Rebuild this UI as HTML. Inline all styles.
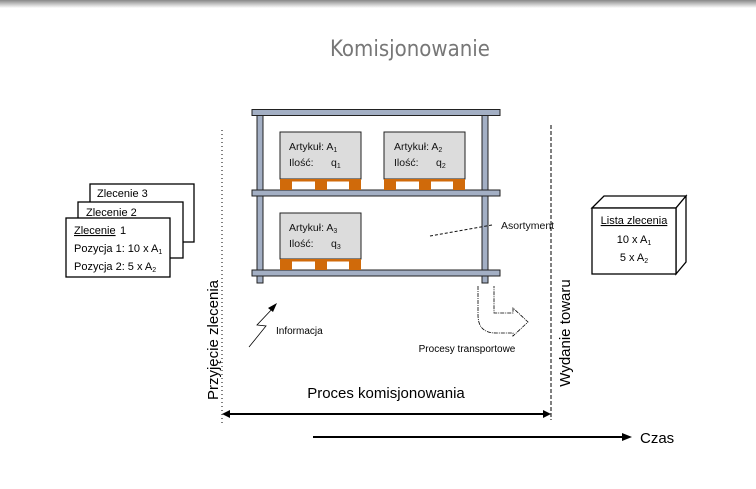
<!DOCTYPE html>
<html><head><meta charset="utf-8"><style>
html,body{margin:0;padding:0;background:#fff;}
svg{display:block;font-family:"Liberation Sans",sans-serif;}
</style></head><body>
<svg width="756" height="489" viewBox="0 0 756 489" xmlns="http://www.w3.org/2000/svg">
<defs><linearGradient id="g" x1="0" y1="0" x2="0" y2="1"><stop offset="0" stop-color="#888"/><stop offset="1" stop-color="#fff"/></linearGradient></defs>
<rect x="0" y="0" width="756" height="8" fill="url(#g)"/>
<text x="410" y="56" font-size="22" fill="#777" text-anchor="middle" font-family="DejaVu Sans Condensed, DejaVu Sans, sans-serif">Komisjonowanie</text>

<g fill="#a3afc4" stroke="#222" stroke-width="1">
<rect x="257" y="112" width="6" height="171"/>
<rect x="482" y="112" width="6" height="171"/>
<rect x="252" y="109.5" width="248" height="6"/>
<rect x="252" y="190" width="248" height="6"/>
<rect x="252" y="270" width="248" height="6"/>
</g>
<g stroke="#222" stroke-width="1">
<rect x="280" y="132" width="81" height="47" fill="#dcdcdc"/>
<rect x="384" y="132" width="81" height="47" fill="#dcdcdc"/>
<rect x="280" y="213" width="81" height="46" fill="#dcdcdc"/>
</g>
<g fill="#d06a0a">
<rect x="280" y="179" width="81" height="2.5"/><rect x="280" y="179" width="12" height="11"/><rect x="315" y="179" width="12" height="11"/><rect x="349" y="179" width="12" height="11"/>
<rect x="384" y="179" width="81" height="2.5"/><rect x="384" y="179" width="12" height="11"/><rect x="419" y="179" width="12" height="11"/><rect x="453" y="179" width="12" height="11"/>
<rect x="280" y="259" width="81" height="2.5"/><rect x="280" y="259" width="12" height="11"/><rect x="315" y="259" width="12" height="11"/><rect x="349" y="259" width="12" height="11"/>
</g>
<g font-size="10.5" fill="#111">
<text x="289" y="150">Artykuł: A<tspan font-size="7" dy="2">1</tspan></text>
<text x="289" y="166">Ilość:</text><text x="331" y="166">q<tspan font-size="7" dy="2">1</tspan></text>
<text x="394" y="150">Artykuł: A<tspan font-size="7" dy="2">2</tspan></text>
<text x="394" y="166">Ilość:</text><text x="436" y="166">q<tspan font-size="7" dy="2">2</tspan></text>
<text x="289" y="231">Artykuł: A<tspan font-size="7" dy="2">3</tspan></text>
<text x="289" y="247">Ilość:</text><text x="331" y="247">q<tspan font-size="7" dy="2">3</tspan></text>
<text x="501" y="229">Asortyment</text>
</g>
<line x1="430" y1="236" x2="492" y2="225" stroke="#111" stroke-dasharray="3,2"/>

<g stroke="#000" stroke-width="1.3" fill="#fff">
<rect x="90" y="184" width="104" height="58"/>
<rect x="78" y="202" width="105" height="56"/>
<rect x="66" y="218" width="104" height="59"/>
</g>
<g font-size="11" fill="#000">
<text x="97" y="197">Zlecenie 3</text>
<text x="86" y="216">Zlecenie 2</text>
<text x="74" y="234" text-decoration="underline">Zlecenie </text><text x="120" y="234">1</text>
<text x="74" y="252">Pozycja 1: 10 x A<tspan font-size="7" dy="2">1</tspan></text>
<text x="74" y="270">Pozycja 2: 5 x A<tspan font-size="7" dy="2">2</tspan></text>
</g>

<g stroke="#000" stroke-width="1.3" fill="#fff">
<polygon points="592,208 604,196 686,196 676,208"/>
<polygon points="676,208 686,196 686,262 676,274"/>
<rect x="592" y="208" width="84" height="66"/>
</g>
<g font-size="11" fill="#000" text-anchor="middle">
<text x="634" y="224" text-decoration="underline">Lista zlecenia</text>
<text x="634" y="243">10 x A<tspan font-size="7" dy="2">1</tspan></text>
<text x="634" y="261">5 x A<tspan font-size="7" dy="2">2</tspan></text>
</g>

<line x1="222" y1="130" x2="222" y2="425" stroke="#000" stroke-dasharray="1,3"/>
<line x1="551" y1="125" x2="551" y2="420" stroke="#000" stroke-dasharray="4,2"/>
<text transform="translate(218,340) rotate(-90)" font-size="15" text-anchor="middle">Przyjęcie zlecenia</text>
<text transform="translate(570,333) rotate(-90)" font-size="15" text-anchor="middle">Wydanie towaru</text>

<polyline points="249,347 266,326 257,325 274,307" fill="none" stroke="#000" stroke-width="0.8"/>
<polygon points="277,303 268,308 273,312" fill="#000"/>
<text x="276" y="334" font-size="10">Informacja</text>

<path d="M478,286 V315 Q478,333 496,333 H513 V336 L528,322 L513,308 V313 H494 V286" fill="none" stroke="#000" stroke-width="0.8" stroke-dasharray="4,1,1,1"/>
<rect x="482" y="276" width="6" height="7" fill="#a3afc4" stroke="#222"/>
<text x="467" y="352" font-size="10" text-anchor="middle">Procesy transportowe</text>

<line x1="226" y1="414" x2="546" y2="414" stroke="#000" stroke-width="2"/>
<polygon points="222,414 230,410 230,418" fill="#000"/>
<polygon points="551,414 543,410 543,418" fill="#000"/>
<text x="386" y="398" font-size="15" text-anchor="middle">Proces komisjonowania</text>

<line x1="313" y1="437" x2="624" y2="437" stroke="#000" stroke-width="2"/>
<polygon points="632,437 622,433 622,441" fill="#000"/>
<text x="640" y="443" font-size="15">Czas</text>
</svg>
</body></html>
